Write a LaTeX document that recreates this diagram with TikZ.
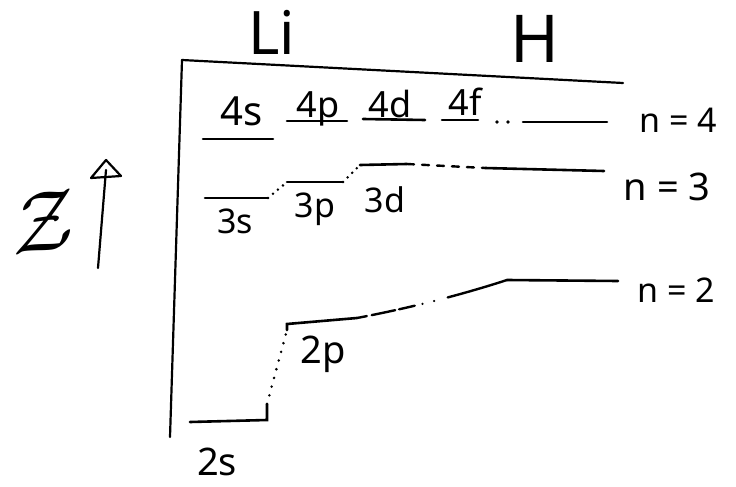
\documentclass[tikz,border=0pt]{standalone}
\usepackage{fontspec}
\setmainfont{Noto Sans}
\usepackage{graphicx}
\begin{document}
\begin{tikzpicture}[x=1pt,y=-1pt,
  lvl/.style={line width=2.6pt,line cap=round},
  axis/.style={line width=2.2pt,line cap=round},
  dotty/.style={line width=2.8pt,line cap=round,dash pattern=on 0pt off 6.5pt},
  dashy/.style={line width=2.4pt,line cap=round,dash pattern=on 7pt off 8pt},
  lab/.style={anchor=base,inner sep=0pt,font=\fontsize{36}{40}\selectfont},
  big/.style={anchor=base,inner sep=0pt,font=\fontsize{60}{64}\selectfont}]
\useasboundingbox (0,0) rectangle (736,487);

% ---- frame ----
\coordinate (corner) at (182,60);
\coordinate (topR) at (623,83);
\coordinate (axB) at (170,437);
\draw[axis] (corner) -- (topR);
\draw[axis] (corner) -- (axB);

% ---- headers ----
\node[big] (li) at (272,55) {Li};
\node[big,font=\fontsize{66}{70}\selectfont] (h) at (535,63) {H};

% ---- energy arrow and symbol ----
\coordinate (arB) at (98,268);
\coordinate (arT) at (106,170);
\coordinate (tip) at (106,160);
\coordinate (hl) at (91,178);
\coordinate (hr) at (121,176);
\draw[axis] (arB) -- (arT);
\draw[axis,line join=round] (tip) -- (hl) -- (hr) -- cycle;
\node[inner sep=0pt,rotate=8] (E) at (43,222) {\scalebox{8.5}{$\mathcal{Z}$}};

% ---- n = 4 ----
\coordinate (s4a) at (203,139); \coordinate (s4b) at (273,139);
\coordinate (p4a) at (287,121); \coordinate (p4b) at (347,121);
\coordinate (d4a) at (363,119); \coordinate (d4b) at (425,120);
\coordinate (f4a) at (442,120); \coordinate (f4b) at (478,120);
\coordinate (h4a) at (523,122); \coordinate (h4b) at (607,122);
\draw[lvl] (s4a) -- (s4b);
\draw[lvl] (p4a) -- (p4b);
\draw[lvl] (d4a) -- (d4b);
\draw[lvl] (f4a) -- (f4b);
\fill (497,122) circle (1.8);
\fill (508,122) circle (1.8);
\draw[lvl] (h4a) -- (h4b);
\node[lab,font=\fontsize{40}{44}\selectfont] (l4s) at (242,125) {4s};
\node[lab] (l4p) at (318,117) {4p};
\node[lab] (l4d) at (390,117) {4d};
\node[lab] (l4f) at (465,115) {4f};
\node[lab,font=\fontsize{34}{38}\selectfont] (n4) at (678,132) {n = 4};

% ---- n = 3 ----
\coordinate (s3a) at (205,198); \coordinate (s3b) at (268,198);
\coordinate (p3a) at (287,182); \coordinate (p3b) at (343,182);
\coordinate (d3a) at (360,165); \coordinate (d3b) at (407,164);
\coordinate (h3a) at (485,168); \coordinate (h3b) at (604,171);
\draw[lvl] (s3a) -- (s3b);
\draw[dotty] (s3b) -- (p3a);
\draw[lvl] (p3a) -- (p3b);
\draw[dotty] (p3b) -- (d3a);
\draw[lvl] (d3a) -- (d3b);
\draw[dashy] (d3b) -- (h3a);
\draw[lvl] (h3a) -- (h3b);
\node[lab,font=\fontsize{34}{38}\selectfont] (l3s) at (235,233) {3s};
\node[lab,font=\fontsize{34}{38}\selectfont] (l3p) at (315,217) {3p};
\node[lab,font=\fontsize{34}{38}\selectfont] (l3d) at (385,212) {3d};
\node[lab,font=\fontsize{38}{42}\selectfont] (n3) at (667,200) {n = 3};

% ---- n = 2 ----
\coordinate (s2a) at (190,422); \coordinate (s2b) at (267,420);
\coordinate (s2t) at (267,404);
\coordinate (p2k) at (287,330);
\coordinate (p2a) at (287,324); \coordinate (p2b) at (357,318);
\coordinate (h2a) at (507,280); \coordinate (h2b) at (618,281);
\draw[lvl] (s2a) -- (s2b) -- (s2t);
\draw[dotty,dash pattern=on 0pt off 9pt] (s2t) -- (p2k);
\draw[lvl] (p2k) -- (p2a) -- (p2b);
\draw[dashy,dash pattern=on 10pt off 5pt on 24pt off 4pt on 16pt off 8pt on 0pt off 12pt on 0pt off 14pt on 80pt off 100pt]
  (p2b) .. controls (420,306) and (470,292) .. (h2a);
\draw[lvl] (h2a) -- (h2b);
\node[lab,font=\fontsize{38}{42}\selectfont] (l2s) at (217,475) {2s};
\node[lab,font=\fontsize{38}{42}\selectfont] (l2p) at (323,363) {2p};
\node[lab,font=\fontsize{34}{38}\selectfont] (n2) at (676,302) {n = 2};
\end{tikzpicture}
\end{document}
